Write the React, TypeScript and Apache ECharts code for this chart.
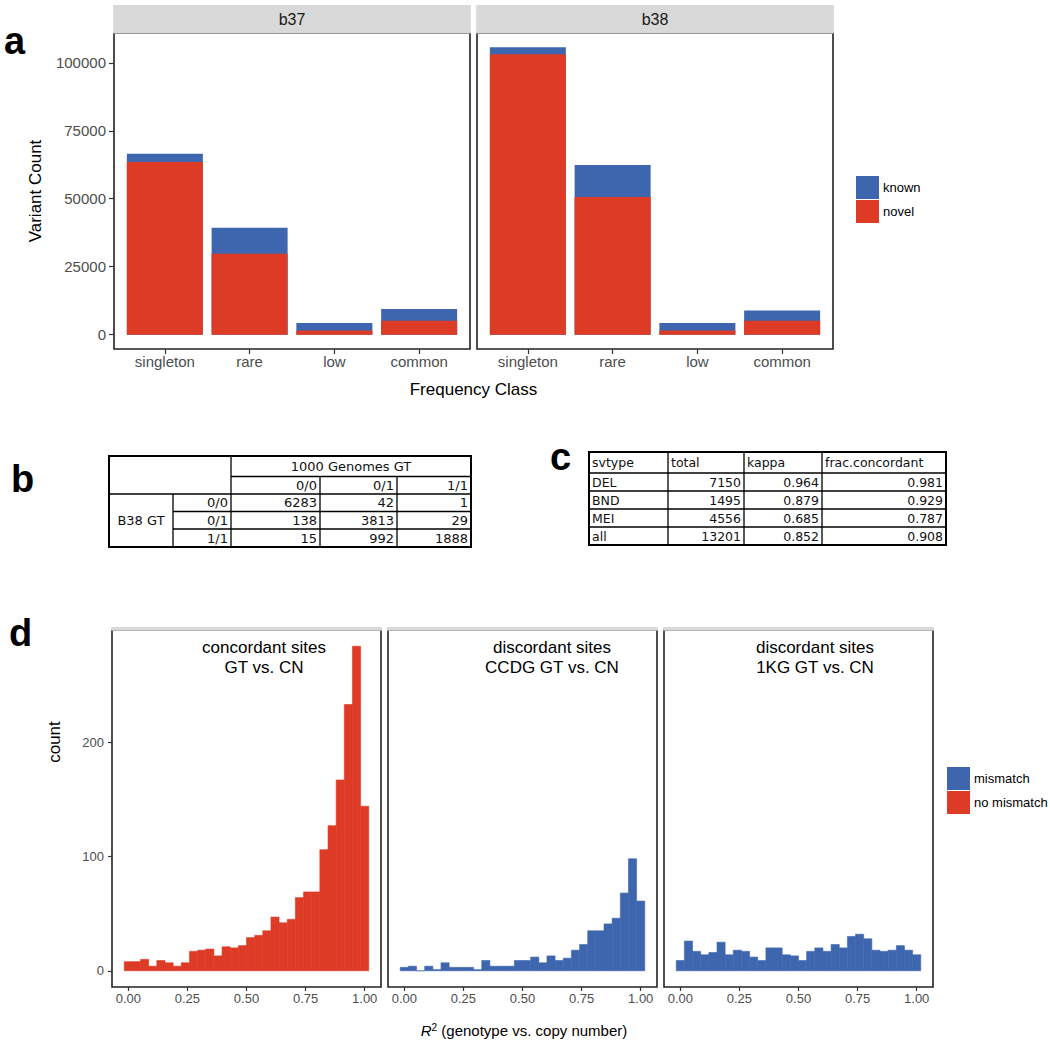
import React, { useEffect, useRef } from 'react';
import * as echarts from 'echarts';

// ---------- Panel a: variant counts by frequency class ----------
const freqClasses = ['singleton', 'rare', 'low', 'common'];
const facetsA = ['b37', 'b38'];
const b37Novel = [63500, 29800, 1500, 5100];
const b37Known = [3100, 9500, 2800, 4300];
const b38Novel = [103200, 50600, 1500, 5100];
const b38Known = [2500, 11800, 2800, 3800];
const countTicks = [0, 25000, 50000, 75000, 100000];

// ---------- Panel b: genotype concordance table ----------
const gtLabels = ['0/0', '0/1', '1/1'];
const gtCounts = [
  [6283, 42, 1],
  [138, 3813, 29],
  [15, 992, 1888],
];

// ---------- Panel c: svtype table ----------
const svHeader = ['svtype', 'total', 'kappa', 'frac.concordant'];
const svTypes = ['DEL', 'BND', 'MEI', 'all'];
const svTotal = ['7150', '1495', '4556', '13201'];
const svKappa = ['0.964', '0.879', '0.685', '0.852'];
const svFrac = ['0.981', '0.929', '0.787', '0.908'];

// ---------- Panel d: R^2 histograms (30 bins over 0..1) ----------
const facetLabelsD = [
  'concordant sites\nGT vs. CN',
  'discordant sites\nCCDG GT vs. CN',
  'discordant sites\n1KG GT vs. CN',
];
const concordantCounts = [8, 8, 10, 4, 9, 7, 4, 7, 17, 18, 19, 13, 21, 20, 22, 29, 31, 35, 47, 42, 45, 64, 69, 69, 106, 127, 167, 233, 284, 144];
const ccdgCounts = [3, 4, 0, 4, 1, 7, 3, 3, 3, 1, 9, 4, 4, 4, 9, 9, 12, 7, 13, 9, 11, 18, 23, 35, 35, 41, 46, 68, 98, 61];
const kgCounts = [9, 26, 17, 14, 16, 25, 14, 18, 17, 12, 9, 20, 20, 14, 13, 9, 17, 20, 17, 23, 20, 30, 32, 28, 18, 17, 18, 22, 18, 14];
const r2Ticks = [0, 0.25, 0.5, 0.75, 1];
const histTicks = [0, 100, 200];

const FONT = '"Liberation Sans", Arial, Helvetica, sans-serif';
const TFONT = '"DejaVu Sans", "Liberation Sans", sans-serif';
const RED = '#DD3B26';
const BLUE = '#3E66AF';
const TICKCOL = '#4D4D4D';

function histData(counts: number[]) {
  const n = counts.length;
  const w = 1 / (n - 1);
  return counts.map((c, i) => [i * w - w / 2, i * w + w / 2, c]);
}

const renderHist = (params: any, api: any) => {
  const p0 = api.coord([api.value(0), 0]);
  const p1 = api.coord([api.value(1), api.value(2)]);
  const color = api.visual('color');
  return {
    type: 'rect',
    shape: { x: p0[0], y: p1[1], width: p1[0] - p0[0], height: p0[1] - p1[1] },
    style: { fill: color, stroke: color, lineWidth: 0.6 },
  };
};

function txt(x: number, y: number, text: string, opts: any = {}) {
  const { rotation, z, ...style } = opts;
  return {
    type: 'text',
    x,
    y,
    rotation: rotation || 0,
    z: z ?? 100,
    style: {
      text,
      fill: '#000',
      fontFamily: FONT,
      fontSize: 12,
      align: 'left',
      verticalAlign: 'middle',
      ...style,
    },
  };
}

function line(x1: number, y1: number, x2: number, y2: number, lw = 1.3) {
  return {
    type: 'line',
    z: 100,
    shape: { x1, y1, x2, y2 },
    style: { stroke: '#000', lineWidth: lw },
  };
}

function buildTableB() {
  const cols = [109, 173, 231, 320, 397, 471];
  const rows = [456, 476.5, 494, 511.5, 529, 547];
  const els: any[] = [];
  els.push({ type: 'rect', z: 100, shape: { x: cols[0], y: rows[0], width: cols[5] - cols[0], height: rows[5] - rows[0] }, style: { fill: 'none', stroke: '#000', lineWidth: 2 } });
  els.push(line(cols[2], rows[1], cols[5], rows[1]));
  els.push(line(cols[0], rows[2], cols[5], rows[2]));
  els.push(line(cols[1], rows[3], cols[5], rows[3]));
  els.push(line(cols[1], rows[4], cols[5], rows[4]));
  els.push(line(cols[1], rows[2], cols[1], rows[5]));
  els.push(line(cols[2], rows[0], cols[2], rows[5]));
  els.push(line(cols[3], rows[1], cols[3], rows[5]));
  els.push(line(cols[4], rows[1], cols[4], rows[5]));
  const ts = { fontFamily: TFONT, fontSize: 13, fill: '#111' };
  els.push(txt((cols[2] + cols[5]) / 2, (rows[0] + rows[1]) / 2, '1000 Genomes GT', { ...ts, align: 'center' }));
  gtLabels.forEach((g, j) => {
    els.push(txt(cols[3 + j] - 3, (rows[1] + rows[2]) / 2, g, { ...ts, align: 'right' }));
  });
  els.push(txt((cols[0] + cols[1]) / 2, (rows[2] + rows[5]) / 2, 'B38 GT', { ...ts, align: 'center' }));
  gtLabels.forEach((g, i) => {
    const yc = (rows[2 + i] + rows[3 + i]) / 2;
    els.push(txt(cols[2] - 3, yc, g, { ...ts, align: 'right' }));
    gtCounts[i].forEach((v, j) => {
      els.push(txt(cols[3 + j] - 3, yc, String(v), { ...ts, align: 'right' }));
    });
  });
  return els;
}

function buildTableC() {
  const cols = [589, 668, 744, 822, 946];
  const rows = [452, 473, 491, 509, 527, 545];
  const els: any[] = [];
  els.push({ type: 'rect', z: 100, shape: { x: cols[0], y: rows[0], width: cols[4] - cols[0], height: rows[5] - rows[0] }, style: { fill: 'none', stroke: '#000', lineWidth: 2 } });
  for (let i = 1; i < rows.length - 1; i++) els.push(line(cols[0], rows[i], cols[4], rows[i]));
  for (let j = 1; j < cols.length - 1; j++) els.push(line(cols[j], rows[0], cols[j], rows[5]));
  const ts = { fontFamily: TFONT, fontSize: 12.5, fill: '#111' };
  svHeader.forEach((h, j) => {
    els.push(txt(cols[j] + 3, (rows[0] + rows[1]) / 2, h, ts));
  });
  svTypes.forEach((t, i) => {
    const yc = (rows[1 + i] + rows[2 + i]) / 2;
    els.push(txt(cols[0] + 3, yc, t, ts));
    els.push(txt(cols[2] - 3, yc, svTotal[i], { ...ts, align: 'right' }));
    els.push(txt(cols[3] - 3, yc, svKappa[i], { ...ts, align: 'right' }));
    els.push(txt(cols[4] - 3, yc, svFrac[i], { ...ts, align: 'right' }));
  });
  return els;
}

const gridsA = [
  { left: 114, top: 33, width: 356, height: 316 },
  { left: 477, top: 33, width: 356, height: 316 },
];
const gridsD = [112, 388, 664].map((l) => ({ left: l, top: 630, width: 269, height: 357 }));
const facetCentersD = [264, 552, 815];

function buildOption() {
  const grid = [...gridsA, ...gridsD].map((g) => ({
    ...g,
    show: true,
    borderColor: '#222',
    borderWidth: 1.6,
    backgroundColor: '#fff',
  }));

  const noLine = { show: false, onZero: false };
  const xAxis: any[] = [];
  const yAxis: any[] = [];
  gridsA.forEach((_, i) => {
    xAxis.push({
      type: 'value', gridIndex: i, min: 0.4, max: 4.6, position: 'bottom',
      splitLine: { show: false }, axisLine: noLine,
      axisTick: { show: true, customValues: [1, 2, 3, 4], length: 5, lineStyle: { color: '#333', width: 1.2 } },
      axisLabel: {
        customValues: [1, 2, 3, 4], formatter: (v: number) => freqClasses[Math.round(v) - 1],
        color: TICKCOL, fontSize: 15, fontFamily: FONT, margin: 5,
      },
    });
    yAxis.push({
      type: 'value', gridIndex: i, min: -5285, max: 110985, position: 'left',
      splitLine: { show: false }, axisLine: noLine,
      axisTick: { show: i === 0, customValues: countTicks, length: 5, lineStyle: { color: '#333', width: 1.2 } },
      axisLabel: {
        show: i === 0, customValues: countTicks, formatter: (v: number) => String(v),
        color: TICKCOL, fontSize: 15, fontFamily: FONT, margin: 8,
      },
    });
  });
  gridsD.forEach((_, k) => {
    const gi = k + 2;
    xAxis.push({
      type: 'value', gridIndex: gi, min: -0.069, max: 1.069, position: 'bottom',
      splitLine: { show: false }, axisLine: noLine,
      axisTick: { show: true, customValues: r2Ticks, length: 4, lineStyle: { color: '#333', width: 1.2 } },
      axisLabel: {
        customValues: r2Ticks, formatter: (v: number) => v.toFixed(2),
        color: TICKCOL, fontSize: 13, fontFamily: FONT, margin: 5,
      },
    });
    yAxis.push({
      type: 'value', gridIndex: gi, min: -14.2, max: 298.2, position: 'left',
      splitLine: { show: false }, axisLine: noLine,
      axisTick: { show: k === 0, customValues: histTicks, length: 4, lineStyle: { color: '#333', width: 1.2 } },
      axisLabel: {
        show: k === 0, customValues: histTicks, formatter: (v: number) => String(v),
        color: TICKCOL, fontSize: 13, fontFamily: FONT, margin: 8,
      },
    });
  });

  const series: any[] = [];
  // known sits on top of novel: draw the full stack (novel + known) in blue, then novel in red over it
  [[b37Novel, b37Known], [b38Novel, b38Known]].forEach(([novel, known], i) => {
    series.push({
      type: 'bar', name: 'known', xAxisIndex: i, yAxisIndex: i, barWidth: 76, barGap: '-100%',
      itemStyle: { color: BLUE }, data: known.map((v, j) => [j + 1, novel[j] + v]),
    });
    series.push({
      type: 'bar', name: 'novel', xAxisIndex: i, yAxisIndex: i, barWidth: 76, barGap: '-100%',
      itemStyle: { color: RED }, data: novel.map((v, j) => [j + 1, v]),
    });
  });
  const histSets = [
    { name: 'no mismatch', color: RED, counts: concordantCounts },
    { name: 'mismatch', color: BLUE, counts: ccdgCounts },
    { name: 'mismatch', color: BLUE, counts: kgCounts },
  ];
  histSets.forEach((h, k) => {
    series.push({
      type: 'custom', name: h.name, xAxisIndex: k + 2, yAxisIndex: k + 2,
      itemStyle: { color: h.color }, encode: { x: [0, 1], y: 2 },
      data: histData(h.counts), renderItem: renderHist,
    });
  });

  const graphics: any[] = [];
  gridsA.forEach((g, i) => {
    graphics.push({ type: 'rect', z: 100, shape: { x: g.left - 0.8, y: 5, width: g.width + 1.6, height: 28.4 }, style: { fill: '#D9D9D9' } });
    graphics.push(txt(g.left + g.width / 2, 19, facetsA[i], { align: 'center', fontSize: 16, fill: '#1A1A1A' }));
  });
  gridsD.forEach((g) => {
    graphics.push({ type: 'rect', z: 100, shape: { x: g.left - 0.8, y: g.top - 3, width: g.width + 1.6, height: 3.8 }, style: { fill: '#D9D9D9' } });
  });
  facetLabelsD.forEach((t, k) => {
    graphics.push(txt(facetCentersD[k], 657, t, { align: 'center', fontSize: 17, lineHeight: 20 }));
  });
  graphics.push(txt(35, 191, 'Variant Count', { align: 'center', fontSize: 17, rotation: Math.PI / 2 }));
  graphics.push(txt(473.5, 389, 'Frequency Class', { align: 'center', fontSize: 17 }));
  graphics.push(txt(54, 742, 'count', { align: 'center', fontSize: 17, rotation: Math.PI / 2 }));
  graphics.push({
    type: 'text', x: 524, y: 1030, z: 100,
    style: {
      text: '{i|R}{s|2} (genotype vs. copy number)',
      align: 'center', verticalAlign: 'middle', fontFamily: FONT, fontSize: 15, fill: '#000',
      rich: {
        i: { fontStyle: 'italic', fontFamily: FONT, fontSize: 15, fill: '#000' },
        s: { fontFamily: FONT, fontSize: 10, fill: '#000', verticalAlign: 'top', padding: [0, 0, 6, 0] },
      },
    },
  });
  const letterStyle = { fontFamily: FONT, fontWeight: 'bold', fontSize: 38, align: 'left' };
  graphics.push(txt(4, 41, 'a', letterStyle));
  graphics.push(txt(11, 479, 'b', letterStyle));
  graphics.push(txt(550, 457, 'c', letterStyle));
  graphics.push(txt(9, 633, 'd', letterStyle));
  graphics.push(...buildTableB(), ...buildTableC());

  const legendCommon = {
    orient: 'vertical', padding: 0, itemWidth: 23, itemHeight: 23, itemGap: 1, icon: 'rect',
    selectedMode: false, itemStyle: { borderWidth: 0 },
    textStyle: { fontFamily: FONT, fontSize: 13, color: '#000', padding: [0, 0, 0, -1] },
  };

  return {
    animation: false,
    backgroundColor: '#fff',
    textStyle: { fontFamily: FONT },
    grid,
    xAxis,
    yAxis,
    series,
    legend: [
      { ...legendCommon, data: ['known', 'novel'], left: 856, top: 176 },
      { ...legendCommon, data: ['mismatch', 'no mismatch'], left: 947, top: 767 },
    ],
    graphic: { elements: graphics },
  };
}

export default function App() {
  const ref = useRef<HTMLDivElement>(null);
  useEffect(() => {
    document.body.style.margin = '0';
    const chart = echarts.init(ref.current!, null, { renderer: 'svg' });
    chart.setOption(buildOption() as any);
    return () => chart.dispose();
  }, []);
  return <div ref={ref} style={{ width: 1050, height: 1047 }} />;
}
